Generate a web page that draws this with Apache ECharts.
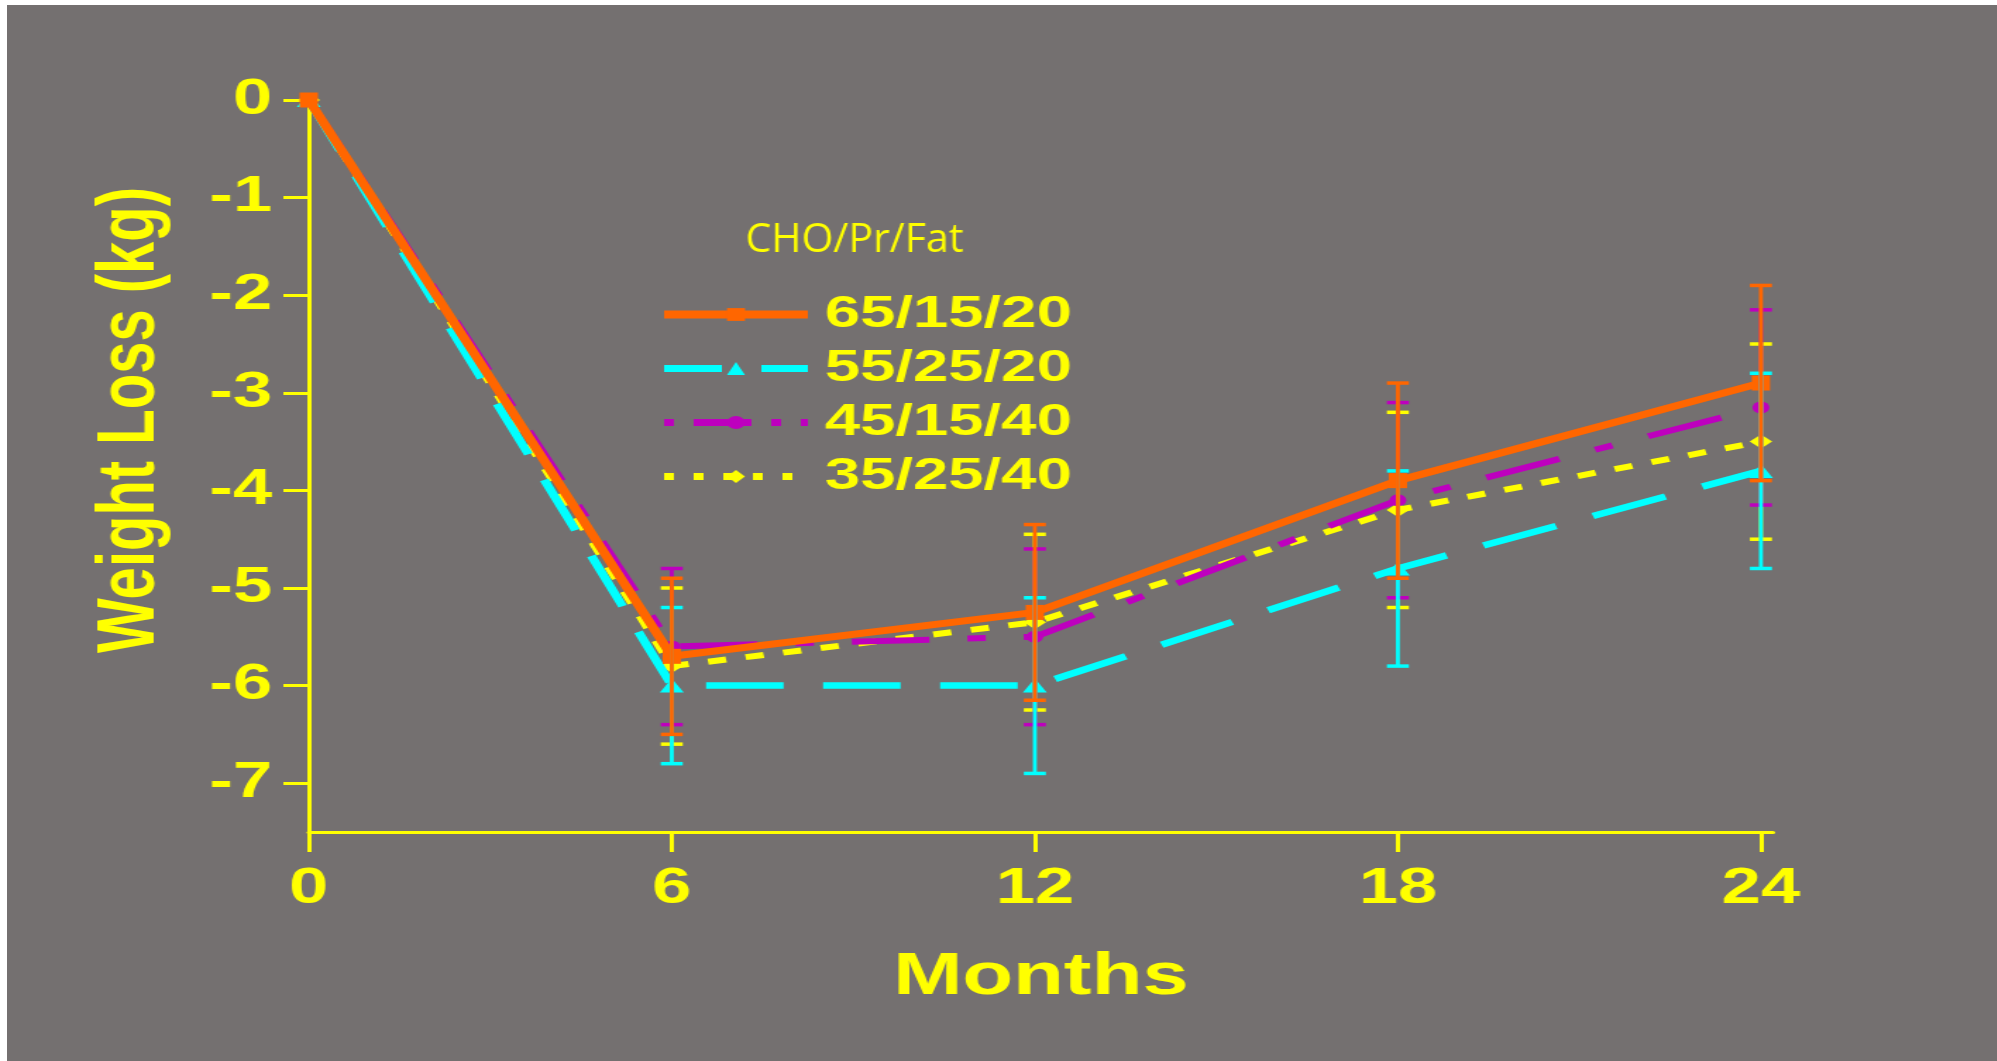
<!DOCTYPE html>
<html>
<head>
<meta charset="utf-8">
<title>Weight Loss by Diet Composition</title>
<script src="https://cdn.jsdelivr.net/npm/echarts@6/dist/echarts.min.js"></script>
<style>
  html, body { margin: 0; padding: 0; background: #ffffff; overflow: hidden; width: 1997px; height: 1061px; }
  /* The slide is laid out at 4:3 and widened to fill the frame */
  #chart {
    position: absolute; left: 7px; top: 5px;
    width: 1411px; height: 1056px;
    transform: scaleX(1.41); transform-origin: 0 0;
  }
</style>
</head>
<body>
<div id="chart"></div>
<script>
// Time points (months) and axis ticks
const months = [0, 6, 12, 18, 24];
const xTicks = [0, 6, 12, 18, 24];
const yTicks = [0, -1, -2, -3, -4, -5, -6, -7];

// Diet groups (CHO/Pr/Fat)
const groupNames = ['65/15/20', '55/25/20', '45/15/40', '35/25/40'];

// Mean weight change (kg)
const loss65_15_20 = [0, -5.7, -5.25, -3.9, -2.9];
const loss55_25_20 = [0, -6.0, -6.0, -4.8, -3.8];
const loss45_15_40 = [0, -5.6, -5.5, -4.1, -3.15];
const loss35_25_40 = [0, -5.8, -5.35, -4.2, -3.5];

// Error bar half-widths (kg); no bar at baseline
const err65_15_20 = [null, 0.8, 0.9, 1.0, 1.0];
const err55_25_20 = [null, 0.8, 0.9, 1.0, 1.0];
const err45_15_40 = [null, 0.8, 0.9, 1.0, 1.0];
const err35_25_40 = [null, 0.8, 0.9, 1.0, 1.0];

const YELLOW = '#FFFF00';
const FONT = '"Liberation Sans", Arial, sans-serif';

const groups = [
  { name: groupNames[0], values: loss65_15_20, err: err65_15_20, color: '#FF6600', width: 7,
    dash: 'solid', legendDash: 'solid', legendWidth: 8, symbol: 'rect', size: [13, 15], z: 5, ez: 9 },
  { name: groupNames[1], values: loss55_25_20, err: err55_25_20, color: '#00FFFF', width: 6.5,
    dash: [55, 28], legendDash: [41, 28], legendWidth: 7, symbol: 'triangle', size: [17, 14], z: 4, ez: 8 },
  { name: groupNames[2], values: loss45_15_40, err: err45_15_40, color: '#BE00BE', width: 6,
    dash: [55, 27, 13, 27], legendDash: [7, 14, 41, 14], legendWidth: 7, symbol: 'circle', size: 12, z: 3, ez: 7 },
  { name: groupNames[3], values: loss35_25_40, err: err35_25_40, color: '#FFFF00', width: 6,
    dash: [13, 14], legendDash: [7, 14], legendWidth: 7, symbol: 'diamond', size: [16, 14], z: 2, ez: 6 }
];

// Vertical error bar with caps
function errorBarRenderer(color) {
  return function (params, api) {
    const x = api.value(0), y = api.value(1), e = api.value(2);
    if (!(e > 0)) return null;
    const top = api.coord([x, y + e]);
    const bot = api.coord([x, y - e]);
    const half = 7.8;
    return {
      type: 'group',
      children: [
        { type: 'line', shape: { x1: top[0], y1: top[1], x2: bot[0], y2: bot[1] },
          style: { stroke: color, lineWidth: 2.8 } },
        { type: 'line', shape: { x1: top[0] - half, y1: top[1], x2: top[0] + half, y2: top[1] },
          style: { stroke: color, lineWidth: 3.5 } },
        { type: 'line', shape: { x1: bot[0] - half, y1: bot[1], x2: bot[0] + half, y2: bot[1] },
          style: { stroke: color, lineWidth: 3.5 } }
      ]
    };
  };
}

const lineSeries = groups.map(g => ({
  name: g.name,
  type: 'line',
  data: months.map((m, i) => [m, g.values[i]]),
  symbol: g.symbol,
  symbolSize: g.size,
  showSymbol: true,
  clip: false,
  z: g.z,
  itemStyle: { color: g.color },
  lineStyle: { color: g.color, width: g.width, type: g.dash, cap: 'butt' },
  emphasis: { disabled: true }
}));

// Bars drawn in this order so the orange ones sit on top
const barOrder = [3, 2, 1, 0];
const errorSeries = barOrder.map(k => {
  const g = groups[k];
  return {
    name: g.name + ' error',
    type: 'custom',
    renderItem: errorBarRenderer(g.color),
    data: months.map((m, i) => [m, g.values[i], g.err[i]]).filter(r => r[2] != null),
    encode: { x: 0, y: 1 },
    clip: false,
    z: g.ez,
    silent: true
  };
});

const chart = echarts.init(document.getElementById('chart'), null, { renderer: 'canvas' });

chart.setOption({
  animation: false,
  backgroundColor: '#747070',
  grid: { left: 214, right: 158.5, top: 95, bottom: 229, containLabel: false },
  xAxis: {
    type: 'value',
    min: 0,
    max: 24.2,
    name: 'Months',
    nameLocation: 'middle',
    nameGap: 116,
    nameTextStyle: { color: YELLOW, fontSize: 59, fontWeight: 'bold', fontFamily: FONT },
    axisLine: { show: true, onZero: false, lineStyle: { color: YELLOW, width: 3 } },
    axisTick: { show: true, length: 20, customValues: xTicks, lineStyle: { color: YELLOW, width: 3 } },
    axisLabel: { show: true, customValues: xTicks, margin: 32, color: YELLOW, fontSize: 50,
                 fontWeight: 'bold', fontFamily: FONT },
    splitLine: { show: false }
  },
  yAxis: {
    type: 'value',
    min: -7.5,
    max: 0,
    name: 'Weight Loss (kg)',
    nameLocation: 'middle',
    nameRotate: 90,
    nameGap: 97,
    nameTextStyle: { color: YELLOW, fontSize: 58, fontWeight: 'bold', fontFamily: FONT,
                     padding: [0, 0, 0, 92] },
    axisLine: { show: true, onZero: false, lineStyle: { color: YELLOW, width: 3 } },
    axisTick: { show: true, length: 18, customValues: yTicks, lineStyle: { color: YELLOW, width: 3 } },
    axisLabel: { show: true, customValues: yTicks, margin: 26, color: YELLOW, fontSize: 50,
                 fontWeight: 'bold', fontFamily: FONT },
    splitLine: { show: false }
  },
  legend: {
    orient: 'vertical',
    left: 462,
    top: 287,
    padding: 0,
    itemWidth: 102,
    itemHeight: 16,
    itemGap: 9,
    selectedMode: false,
    data: groups.map(g => ({
      name: g.name,
      lineStyle: { width: g.legendWidth, type: g.legendDash, color: g.color },
      itemStyle: { color: g.color }
    })),
    textStyle: { color: YELLOW, fontSize: 45, fontWeight: 'bold', fontFamily: FONT,
                 padding: [0, 0, 0, 7] }
  },
  graphic: [
    {
      type: 'text',
      x: 601,
      y: 235,
      scaleX: 1 / 1.41,
      z: 100,
      style: {
        text: 'CHO/Pr/Fat',
        fill: YELLOW,
        font: '41px "Open Sans", sans-serif',
        textAlign: 'center',
        textVerticalAlign: 'middle'
      }
    }
  ],
  series: lineSeries.concat(errorSeries)
});
</script>
</body>
</html>
